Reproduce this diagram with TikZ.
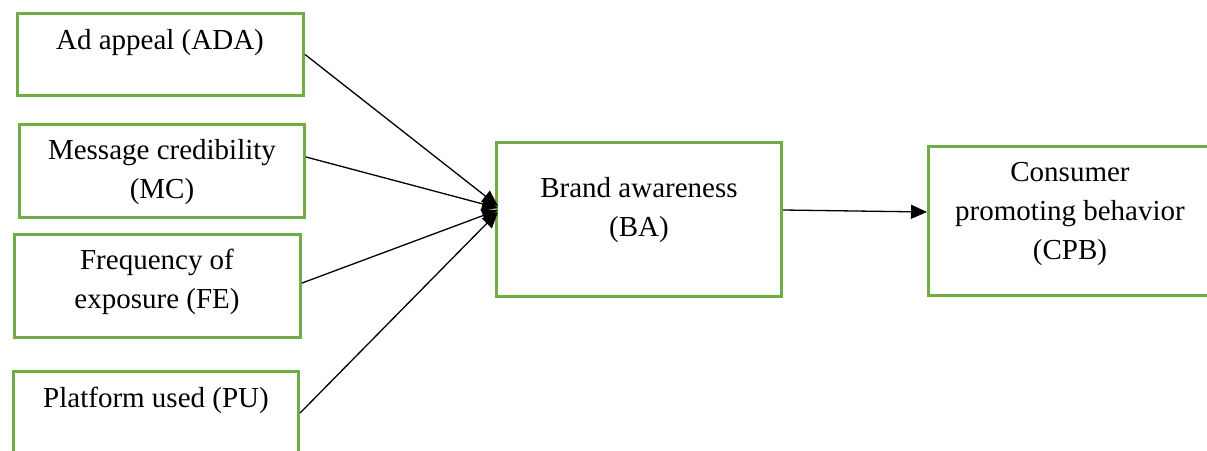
\documentclass[tikz,border=0pt]{standalone}
\usepackage{fontspec}
\setmainfont{Liberation Serif}
\usetikzlibrary{arrows.meta}
\definecolor{boxgreen}{RGB}{112,173,71}
\begin{document}
\begin{tikzpicture}[x=1pt,y=-1pt,
  box/.style={draw=boxgreen, line width=2.6pt, inner sep=0pt, fill=none},
  lbl/.style={align=center, inner sep=0pt, font=\fontsize{29}{39}\selectfont},
  conn/.style={line width=1.3pt, -{Triangle[length=16pt,width=14pt]}}]
\useasboundingbox (0,0) rectangle (1207,450);
\clip (0,0) rectangle (1207,450);
\node[box, minimum width=286.5pt, minimum height=82.5pt] (ADA) at (160.5,54.5) {};
\node[box, minimum width=285.5pt, minimum height=93.5pt] (MC) at (162,171) {};
\node[box, minimum width=286.5pt, minimum height=103.5pt] (FE) at (157.5,286) {};
\node[box, minimum width=285.5pt, minimum height=97.5pt] (PU) at (156,420) {};
\node[box, minimum width=285.5pt, minimum height=154.5pt] (BA) at (639,219.5) {};
\node[box, minimum width=285.5pt, minimum height=149.5pt] (CPB) at (1071,221) {};
\node[lbl] (tADA) at (160,43) {Ad appeal (ADA)};
\node[lbl] (tMC) at (162,172) {Message credibility\\(MC)};
\node[lbl] (tFE) at (157,282) {Frequency of\\exposure (FE)};
\node[lbl] (tPU) at (156,400) {Platform used (PU)};
\node[lbl] (tBA) at (639,210) {Brand awareness\\(BA)};
\node[lbl] (tCPB) at (1070,214) {Consumer\\promoting behavior\\(CPB)};
\coordinate (hub1) at (498,206);
\coordinate (hub2) at (498,208);
\coordinate (hub3) at (498,210);
\coordinate (hub4) at (498,212);
\coordinate (ba out) at (783,210);
\coordinate (cpb in) at (927,212);
\draw[conn] (ADA.east) -- (hub1);
\draw[conn] ([yshift=14pt]MC.east) -- (hub2);
\draw[conn] ([yshift=3pt]FE.east) -- (hub3);
\draw[conn] ([yshift=7pt]PU.east) -- (hub4);
\draw[conn] (ba out) -- (cpb in);
\end{tikzpicture}
\end{document}
